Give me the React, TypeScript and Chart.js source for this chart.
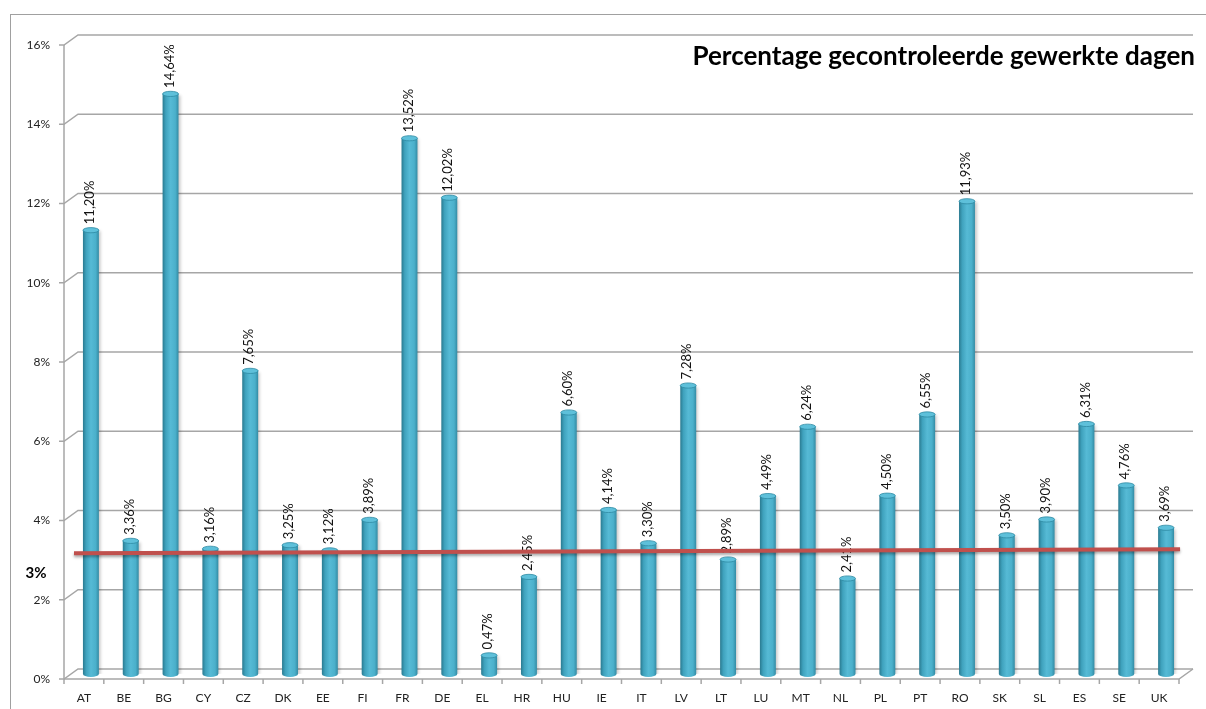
import React, { useEffect, useRef } from 'react';
import { Chart, registerables } from 'chart.js';

Chart.register(...registerables);

const categories = ['AT','BE','BG','CY','CZ','DK','EE','FI','FR','DE','EL','HR','HU','IE','IT','LV','LT','LU','MT','NL','PL','PT','RO','SK','SL','ES','SE','UK'];
const percentages = [11.20,3.36,14.64,3.16,7.65,3.25,3.12,3.89,13.52,12.02,0.47,2.45,6.60,4.14,3.30,7.28,2.89,4.49,6.24,2.41,4.50,6.55,11.93,3.50,3.90,6.31,4.76,3.69];
const yTicks = [0,2,4,6,8,10,12,14,16];
const targetLineX = [0, 1];
const targetLineY = [3.05, 3.15];
const targetLabel = '3%';
const titleText = 'Percentage gecontroleerde gewerkte dagen';

const DX = 7;
const DY = 5;
const BAR_FRACTION = 0.4;
const FONT = 'Lato, "Open Sans", sans-serif';

function makeBarGradient(ctx: CanvasRenderingContext2D, cx: number, hw: number) {
  const g = ctx.createLinearGradient(cx - hw, 0, cx + hw, 0);
  g.addColorStop(0, '#2A7A90');
  g.addColorStop(0.2, '#3FA2BD');
  g.addColorStop(0.5, '#56BAD5');
  g.addColorStop(0.8, '#4BB0CB');
  g.addColorStop(1, '#338BA4');
  return g;
}

function barFill(context: any) {
  const chart = context.chart;
  const xs = chart.scales && chart.scales.x;
  if (!xs || context.dataIndex === undefined || !chart.chartArea) return '#4BACC6';
  const cx = xs.getPixelForValue(context.dataIndex);
  const hw = (xs.width / categories.length) * BAR_FRACTION / 2;
  return makeBarGradient(chart.ctx, cx, hw);
}

const fmt = (v: number) => v.toFixed(2).replace('.', ',') + '%';

const decoPlugin = {
  id: 'deco3d',
  beforeDatasetsDraw(chart: any) {
    const { ctx, chartArea: a, scales } = chart;
    const x = scales.x;
    const y = scales.y;
    ctx.save();
    ctx.strokeStyle = '#A6A6A6';
    ctx.lineWidth = 1.5;
    for (const v of yTicks) {
      const py = y.getPixelForValue(v);
      ctx.beginPath();
      ctx.moveTo(a.left - DX - 5, py + DY);
      ctx.lineTo(a.left - DX, py + DY);
      ctx.lineTo(a.left + DX, py - DY);
      ctx.lineTo(a.right + DX, py - DY);
      ctx.stroke();
    }
    const y0 = y.getPixelForValue(0);
    const yTop = y.getPixelForValue(yTicks[yTicks.length - 1]);
    ctx.beginPath();
    ctx.moveTo(a.left - DX, yTop + DY);
    ctx.lineTo(a.left - DX, y0 + DY);
    ctx.stroke();
    ctx.beginPath();
    ctx.moveTo(a.left - DX, y0 + DY);
    ctx.lineTo(a.right - DX, y0 + DY);
    ctx.lineTo(a.right + DX, y0 - DY);
    ctx.stroke();
    const w = x.width / categories.length;
    for (let i = 0; i <= categories.length; i++) {
      const px = (i < categories.length ? x.getPixelForValue(i) - w / 2 : x.getPixelForValue(i - 1) + w / 2) - DX;
      ctx.beginPath();
      ctx.moveTo(px, y0 + DY);
      ctx.lineTo(px, y0 + DY + 5);
      ctx.stroke();
    }
    ctx.restore();
  },
  beforeDatasetDraw(chart: any, args: any) {
    const ctx = chart.ctx;
    ctx.save();
    if (args.index === 0) {
      ctx.shadowColor = 'rgba(0,0,0,0.22)';
      ctx.shadowBlur = 3;
      ctx.shadowOffsetX = 2;
      ctx.shadowOffsetY = 1;
    } else {
      ctx.shadowColor = 'rgba(0,0,0,0.35)';
      ctx.shadowBlur = 3;
      ctx.shadowOffsetY = 2;
    }
  },
  afterDatasetDraw(chart: any, args: any) {
    const ctx = chart.ctx;
    ctx.restore();
    if (args.index !== 0) return;
    const meta = chart.getDatasetMeta(0);
    ctx.save();
    meta.data.forEach((el: any, i: number) => {
      const p = el.getProps(['x', 'y', 'width', 'base'], true);
      const rx = p.width / 2;
      ctx.beginPath();
      ctx.ellipse(p.x, p.base, rx, 3, 0, 0, Math.PI);
      ctx.fillStyle = makeBarGradient(ctx, p.x, rx);
      ctx.fill();
      ctx.beginPath();
      ctx.ellipse(p.x, p.y, rx, 2.6, 0, 0, Math.PI * 2);
      ctx.fillStyle = '#5EC0DA';
      ctx.fill();
      ctx.strokeStyle = '#2F8AA3';
      ctx.lineWidth = 0.8;
      ctx.stroke();
      ctx.save();
      ctx.translate(p.x - 1, p.y - 6);
      ctx.rotate(-Math.PI / 2);
      ctx.textAlign = 'left';
      ctx.textBaseline = 'middle';
      ctx.font = '13px ' + FONT;
      ctx.fillStyle = '#111';
      ctx.fillText(fmt(percentages[i]), 0, 0);
      ctx.restore();
    });
    ctx.restore();
  },
  afterDraw(chart: any) {
    const { ctx, chartArea: a, scales } = chart;
    ctx.save();
    ctx.fillStyle = '#000';
    ctx.font = 'bold 26px ' + FONT;
    ctx.textAlign = 'right';
    ctx.textBaseline = 'middle';
    ctx.fillText(titleText, a.right + 9, a.top + 17);
    ctx.font = 'bold 15px ' + FONT;
    ctx.textAlign = 'center';
    ctx.fillText(targetLabel, 36, scales.y.getPixelForValue(3) + 18);
    ctx.restore();
  },
};

export default function App() {
  const ref = useRef<HTMLCanvasElement | null>(null);
  useEffect(() => {
    document.body.style.margin = '0';
    const canvas = ref.current;
    if (!canvas) return;
    const areaW = 1206 - 71 - 20;
    const x2min = -3 / areaW;
    const x2max = 1 + (1186 - 1192 + 0) / areaW * -1 - 3 / areaW * 0;
    const chart = new Chart(canvas, {
      type: 'bar',
      data: {
        labels: categories,
        datasets: [
          {
            type: 'bar',
            data: percentages,
            backgroundColor: barFill,
            borderWidth: 0,
            grouped: false,
            categoryPercentage: 1,
            barPercentage: BAR_FRACTION,
            order: 1,
          } as any,
          {
            type: 'line',
            data: targetLineX.map((xv, i) => ({ x: xv, y: targetLineY[i] })),
            xAxisID: 'x2',
            borderColor: '#C0504D',
            borderWidth: 4,
            pointRadius: 0,
            clip: false,
            order: 0,
          } as any,
        ],
      },
      options: {
        responsive: false,
        animation: false,
        devicePixelRatio: 1,
        layout: { padding: { top: 40, right: 20, left: 0, bottom: 0 } },
        plugins: { legend: { display: false }, tooltip: { enabled: false }, title: { display: false } },
        scales: {
          x: {
            type: 'category',
            grid: { display: false, drawTicks: false },
            border: { display: false },
            ticks: {
              autoSkip: false,
              maxRotation: 0,
              padding: 17,
              labelOffset: -DX,
              color: '#222',
              font: { family: FONT, size: 12 },
            },
            afterFit: (s: any) => { s.height = 35; },
          },
          x2: {
            type: 'linear',
            display: false,
            offset: false,
            min: x2min,
            max: x2max,
          },
          y: {
            min: 0,
            max: 16,
            grid: { display: false, drawTicks: false },
            border: { display: false },
            ticks: {
              stepSize: 2,
              padding: 21,
              labelOffset: DY,
              color: '#222',
              font: { family: FONT, size: 12 },
              callback: (v: any) => v + '%',
            },
            afterFit: (s: any) => { s.width = 71; },
          },
        },
      } as any,
      plugins: [decoPlugin],
    });
    return () => chart.destroy();
  }, []);
  return (
    <div style={{ position: 'fixed', left: 0, top: 0, width: 1206, height: 709, overflow: 'hidden', background: '#fff' }}>
      <div style={{ position: 'absolute', left: 10, top: 14, width: 1300, height: 800, borderTop: '1.5px solid #A0A0A0', borderLeft: '1.5px solid #A0A0A0' }} />
      <canvas ref={ref} width={1206} height={709} style={{ position: 'absolute', left: 0, top: 0 }} />
    </div>
  );
}
